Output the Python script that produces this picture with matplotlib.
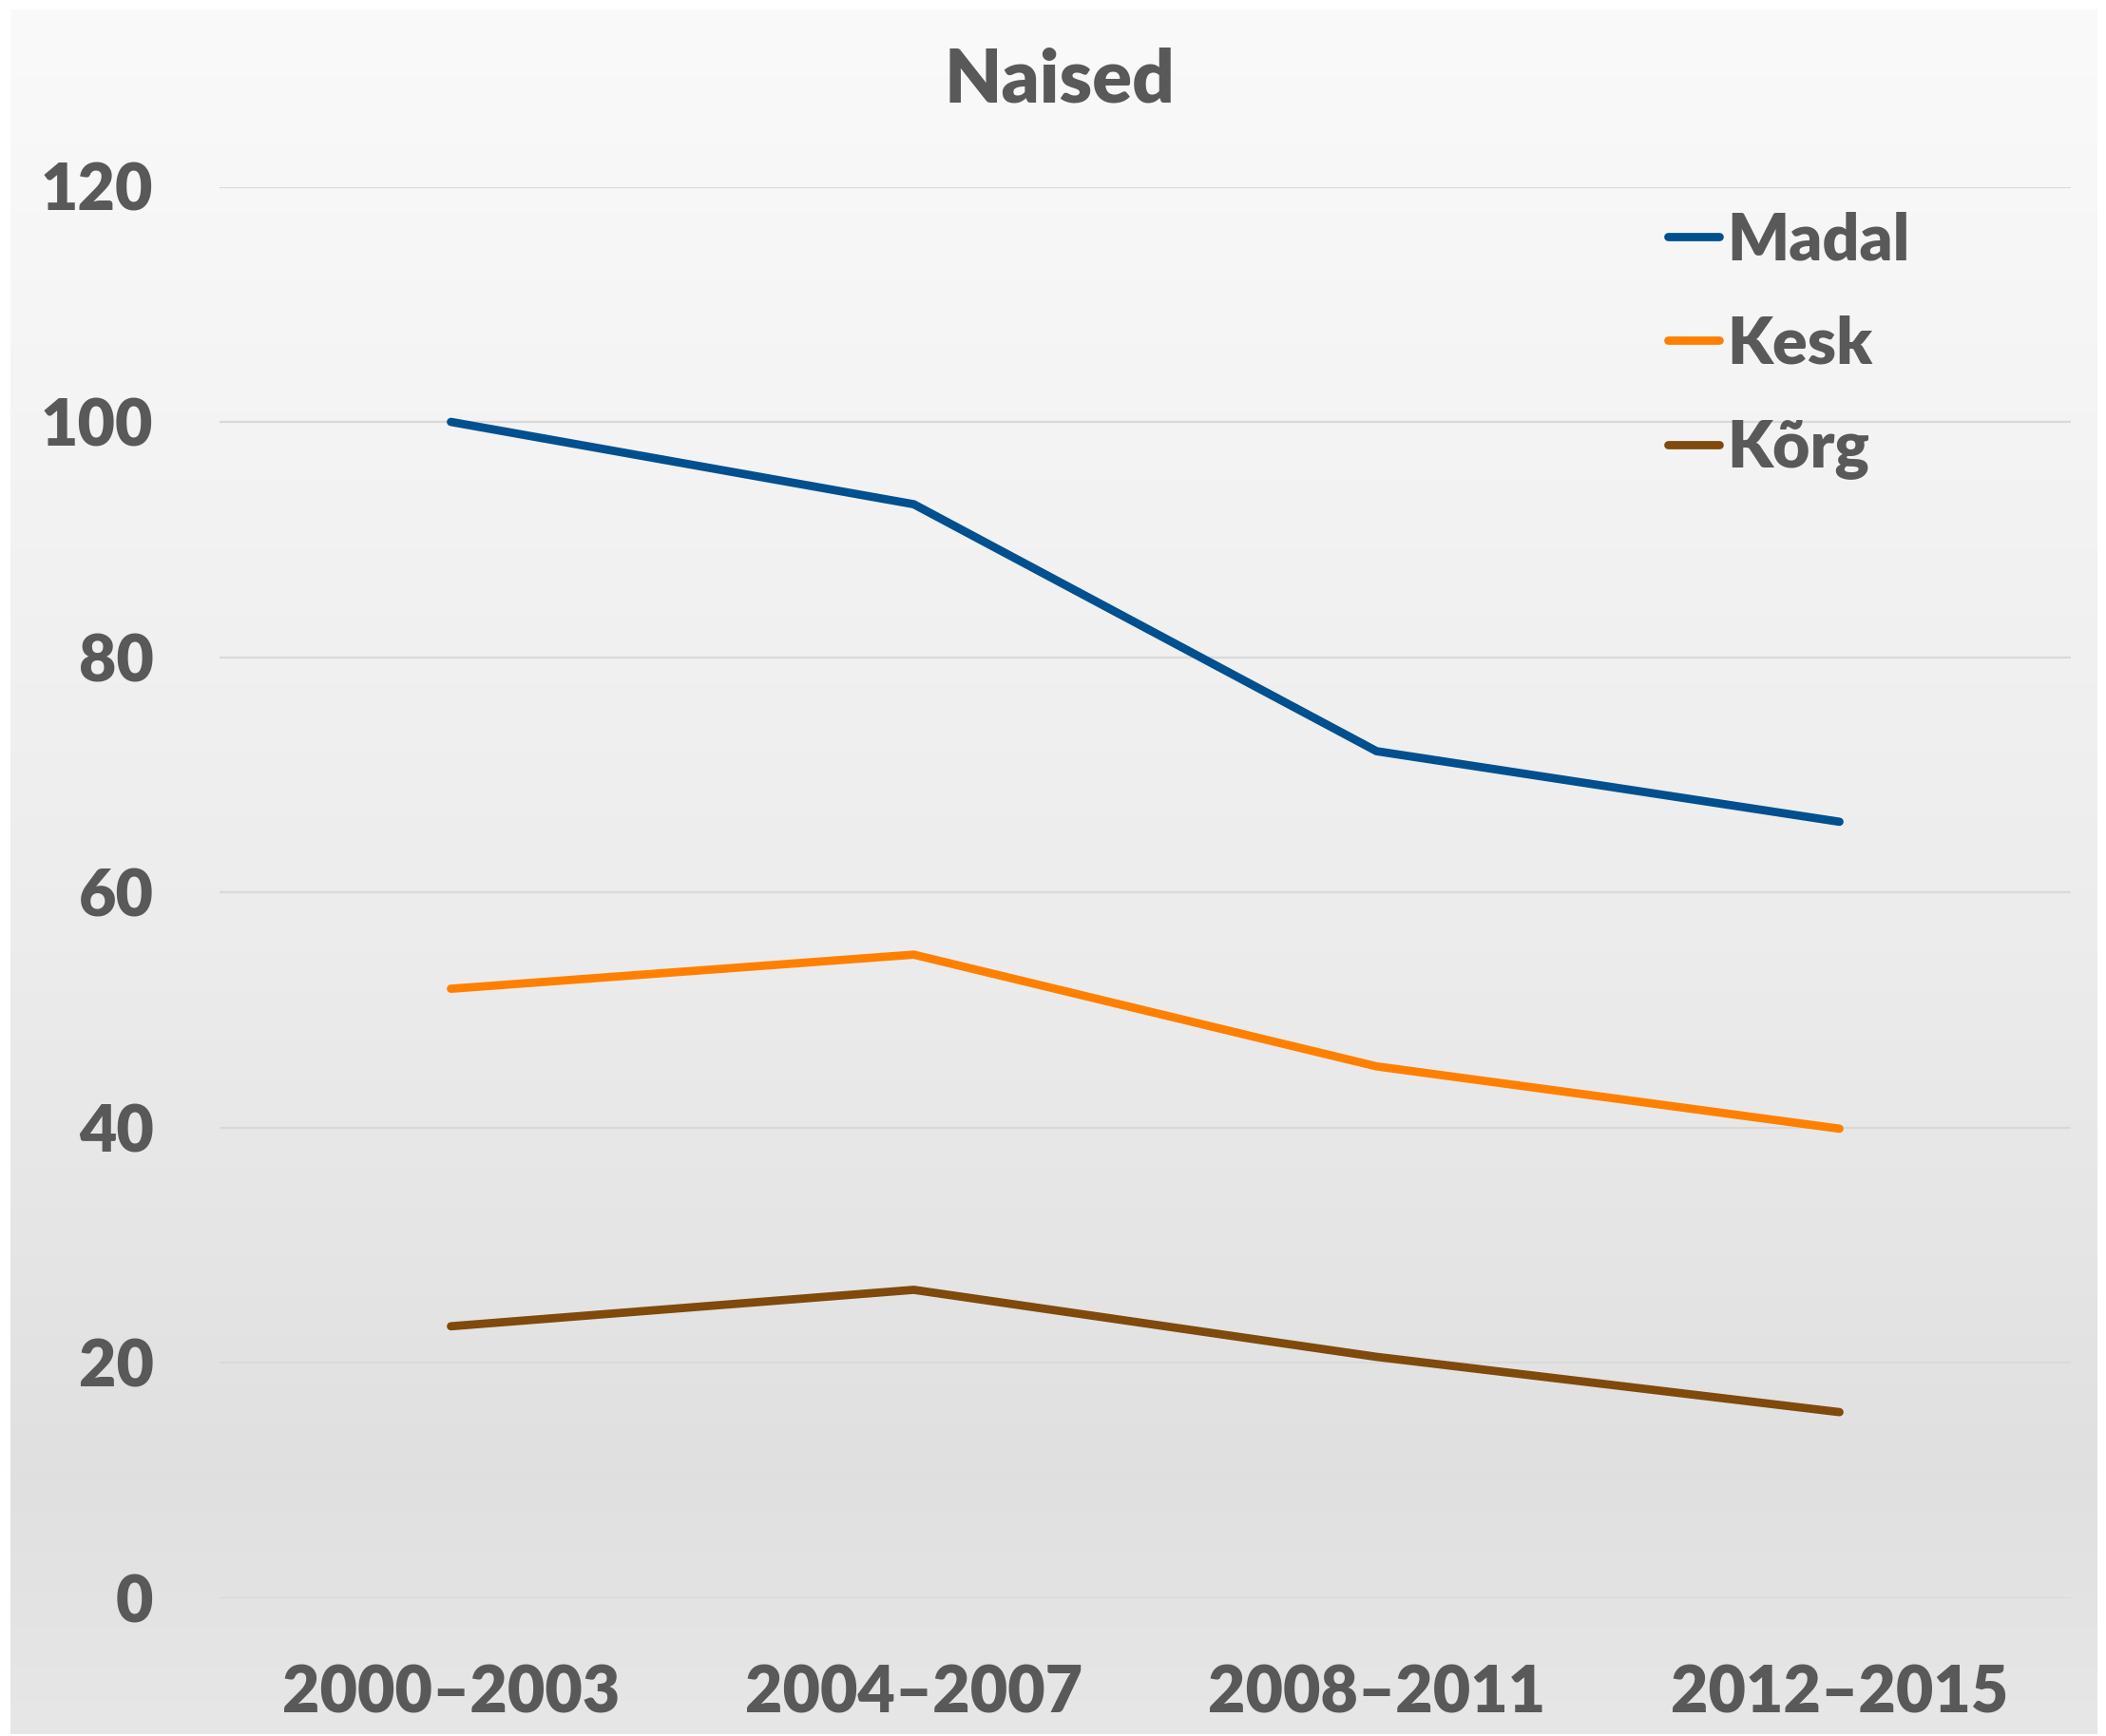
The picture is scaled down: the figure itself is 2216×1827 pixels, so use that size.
import matplotlib.pyplot as plt
import numpy as np

periods = ['2000–2003', '2004–2007', '2008–2011', '2012–2015']
madal = [100, 93, 72, 66]
kesk = [51.8, 54.7, 45.2, 39.9]
korg = [23.1, 26.2, 20.5, 15.8]
series_names = ['Madal', 'Kesk', 'Kõrg']
series_colors = ['#00508F', '#FF8000', '#7F4A0C']
yticks = [0, 20, 40, 60, 80, 100, 120]

txt = '#595959'
plt.rcParams['font.family'] = ['Lato', 'DejaVu Sans']
plt.rcParams['font.weight'] = 'heavy'

W, H = 2216, 1827
fig = plt.figure(figsize=(W / 100, H / 100), dpi=100)
fig.patch.set_facecolor('white')

# gradient background of the chart area
bg = fig.add_axes([11 / W, 2 / H, (2207 - 11) / W, (1817 - 2) / H])
bg.set_axis_off()
stops = np.array([0.0, 0.55, 0.85, 1.0])
shade = np.array([0.980, 0.925, 0.878, 0.905])
g = np.interp(np.linspace(0, 1, 256), stops, shade)
img = np.repeat(np.stack([g, g, g], axis=-1)[:, None, :], 2, axis=1)
bg.imshow(img, aspect='auto', extent=[0, 1, 0, 1], origin='upper')
bg.set_xlim(0, 1)
bg.set_ylim(0, 1)

ax = fig.add_axes([231 / W, (H - 1681.7) / H, 1948 / W, (1681.7 - 196.5) / H])
ax.patch.set_alpha(0)
x = np.arange(len(periods))
for vals_, name, c in zip([madal, kesk, korg], series_names, series_colors):
    ax.plot(x, vals_, color=c, lw=6.3, solid_capstyle='round',
            solid_joinstyle='miter', label=name, zorder=3)

ax.set_xlim(-0.5, 3.5)
ax.set_ylim(0, 120)
ax.set_yticks(yticks)
ax.set_xticks(x)
ax.set_xticklabels(periods)
ax.grid(axis='y', color='#D9D9D9', lw=1.6)
ax.set_axisbelow(True)
for s in ax.spines.values():
    s.set_visible(False)
ax.tick_params(axis='both', length=0, labelsize=49, labelcolor=txt)
ax.tick_params(axis='y', pad=50)
ax.tick_params(axis='x', pad=50)

fig.text(1115 / W, 1 - 85 / H, 'Naised', ha='center', va='center',
         fontsize=56, color=txt, fontweight='heavy')

leg = ax.legend(loc='upper left', bbox_to_anchor=(1755 / W, 1 - 222 / H),
                bbox_transform=fig.transFigure, frameon=False, fontsize=49,
                handlelength=0.8, handletextpad=0.12, labelspacing=0.68,
                borderpad=0, borderaxespad=0)
for t in leg.get_texts():
    t.set_color(txt)

fig.savefig('out.png', dpi=100)
